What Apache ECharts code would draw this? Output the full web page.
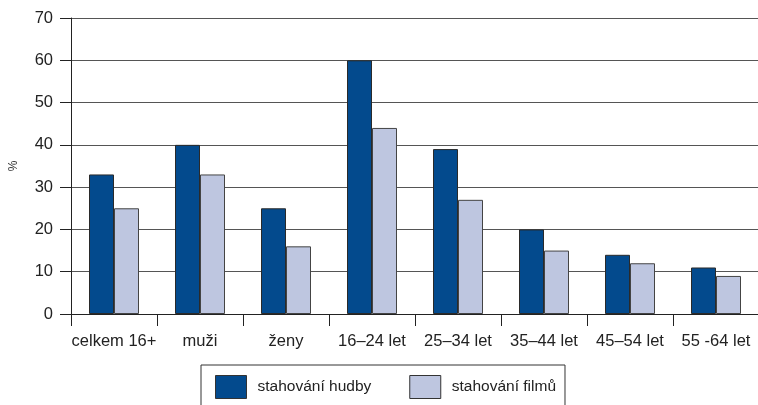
<!DOCTYPE html>
<html>
<head>
<meta charset="utf-8">
<script src="https://cdn.jsdelivr.net/npm/echarts@6/dist/echarts.min.js"></script>
<style>
html,body{margin:0;padding:0;background:#fff;}
#c{width:758px;height:405px;}
</style>
</head>
<body>
<div id="c"></div>
<script>
const categories = ['celkem 16+', 'muži', 'ženy', '16\u201324 let', '25\u201334 let', '35\u201344 let', '45\u201354 let', '55 -64 let'];
const hudba = [33, 40, 25, 60, 39, 20, 14, 11];
const filmy = [25, 33, 16, 44, 27, 15, 12, 9];
const seriesNames = ['stahování hudby', 'stahování filmů'];
const yTicks = [0, 10, 20, 30, 40, 50, 60, 70];

const font = 'Liberation Sans, Arial, sans-serif';
const chart = echarts.init(document.getElementById('c'), null, {renderer: 'canvas'});
chart.setOption({
  animation: false,
  textStyle: {fontFamily: font},
  grid: {left: 71, right: -1, top: 18, bottom: 91, containLabel: false, outerBoundsMode: 'none'},
  xAxis: {
    type: 'category',
    data: categories,
    boundaryGap: true,
    axisLine: {lineStyle: {color: '#222', width: 1}},
    axisTick: {show: true, interval: 0, length: 12, lineStyle: {color: '#222'}},
    axisLabel: {interval: 0, hideOverlap: false, color: '#222', fontSize: 16.5, margin: 19, fontFamily: font}
  },
  yAxis: {
    type: 'value',
    min: yTicks[0], max: yTicks[yTicks.length - 1], interval: 10,
    name: '%',
    nameLocation: 'middle',
    nameGap: 51,
    nameRotate: 90,
    nameTextStyle: {color: '#333', fontSize: 12, fontFamily: font},
    axisLine: {show: true, lineStyle: {color: '#222', width: 1}},
    axisTick: {show: true, length: 11, lineStyle: {color: '#222'}},
    axisLabel: {color: '#222', fontSize: 16.5, margin: 18, fontFamily: font},
    splitLine: {show: true, lineStyle: {color: '#555', width: 1}}
  },
  legend: {
    data: seriesNames,
    left: 201,
    top: 365,
    orient: 'horizontal',
    itemWidth: 31,
    itemHeight: 23,
    itemGap: 38,
    padding: [10, 9, 20, 14],
    borderColor: '#333',
    borderWidth: 1,
    icon: 'rect',
    itemStyle: {borderColor: '#333', borderWidth: 1},
    textStyle: {color: '#222', fontSize: 15.5, fontFamily: font, padding: [0, 0, 0, 6]}
  },
  series: [
    {
      name: seriesNames[0], type: 'bar', data: hudba,
      barWidth: 25, barGap: '0%',
      itemStyle: {color: '#034A8D', borderColor: '#2a2a2a', borderWidth: 1}
    },
    {
      name: seriesNames[1], type: 'bar', data: filmy,
      barWidth: 25, barGap: '0%',
      itemStyle: {color: '#BEC6E0', borderColor: '#444', borderWidth: 1}
    }
  ]
});
</script>
</body>
</html>
